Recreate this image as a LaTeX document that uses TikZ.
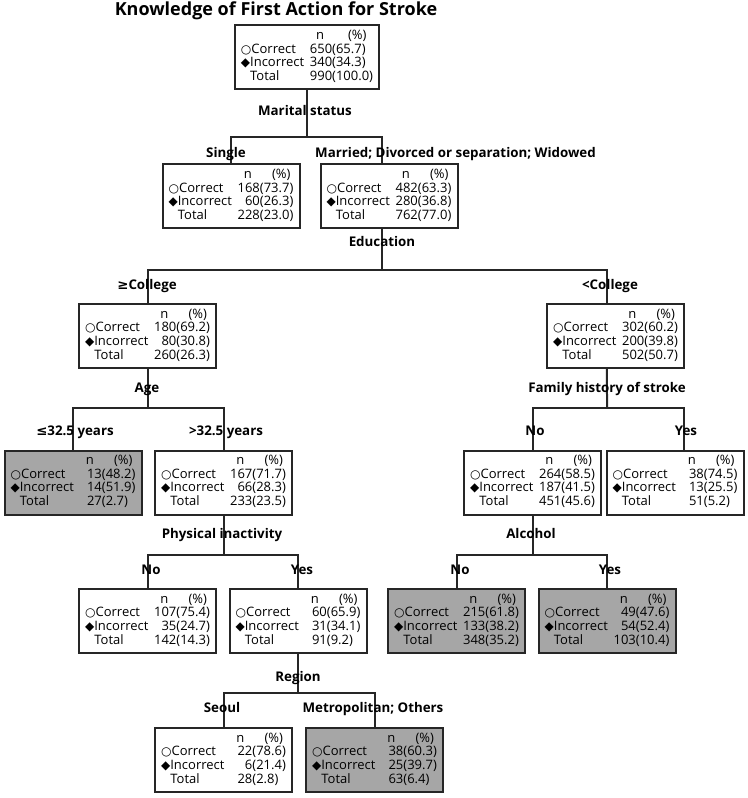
\documentclass[tikz,border=0pt]{standalone}
\usepackage{fontspec}
\setmainfont{Open Sans}
\newfontfamily\symfont{DejaVu Sans}
\usetikzlibrary{positioning}

\definecolor{linegray}{HTML}{262626}
\definecolor{hitgray}{HTML}{A6A6A6}

\newcommand{\crt}{{\symfont\small ○}}
\newcommand{\inc}{{\symfont\small ◆}}
\newcommand{\stats}[6]{%
  \begin{tabular}{@{}l@{\hspace{3pt}}r@{}l@{}}
    & \multicolumn{1}{c}{n} & \multicolumn{1}{c@{}}{\hspace{1pt}(\%)}\\
    \crt Correct & #1 & (#2)\\
    \inc Incorrect & #3 & (#4)\\
    \phantom{\inc}Total & #5 & (#6)
  \end{tabular}}

\begin{document}
\begin{tikzpicture}[x=0.75pt, y=-0.75pt,
    box/.style={draw=linegray, line width=1.5pt, fill=white, inner sep=0pt,
      minimum width=102.75pt, minimum height=48pt,
      font=\fontsize{9.75}{9.9}\selectfont},
    hit/.style={box, fill=hitgray},
    lbl/.style={font=\bfseries\fontsize{10}{12}\selectfont, inner sep=0pt,
      text height=1.6ex, text depth=.3ex},
    branch/.style={draw=linegray, line width=1.5pt}]
  \useasboundingbox (0,0) rectangle (748,798);

  % Titel
  \node[font=\bfseries\fontsize{13.5}{15}\selectfont] (title) at (276,11)
    {Knowledge of First Action for Stroke};

  % Knoten
  \node[box, minimum width=108pt] (root) at (307,57.5) {\stats{650}{65.7}{340}{34.3}{990}{100.0}};
  \node[box] (single)  at (231,196.5) {\stats{168}{73.7}{60}{26.3}{228}{23.0}};
  \node[box] (married) at (389,196.5) {\stats{482}{63.3}{280}{36.8}{762}{77.0}};
  \node[box] (college)  at (147.5,336) {\stats{180}{69.2}{80}{30.8}{260}{26.3}};
  \node[box] (lcollege) at (615.5,336) {\stats{302}{60.2}{200}{39.8}{502}{50.7}};
  \node[hit] (young)  at (73,482.5)    {\stats{13}{48.2}{14}{51.9}{27}{2.7}};
  \node[box] (old)    at (223.5,482.5) {\stats{167}{71.7}{66}{28.3}{233}{23.5}};
  \node[box] (famno)  at (532.5,482.5) {\stats{264}{58.5}{187}{41.5}{451}{45.6}};
  \node[box] (famyes) at (675,482.5)   {\stats{38}{74.5}{13}{25.5}{51}{5.2}};
  \node[box] (physno)  at (147.5,621) {\stats{107}{75.4}{35}{24.7}{142}{14.3}};
  \node[box] (physyes) at (298,621)   {\stats{60}{65.9}{31}{34.1}{91}{9.2}};
  \node[hit] (alcno)   at (456.5,621) {\stats{215}{61.8}{133}{38.2}{348}{35.2}};
  \node[hit] (alcyes)  at (607,621)   {\stats{49}{47.6}{54}{52.4}{103}{10.4}};
  \node[box] (seoul) at (223.5,760) {\stats{22}{78.6}{6}{21.4}{28}{2.8}};
  \node[hit] (metro) at (374.5,760) {\stats{38}{60.3}{25}{39.7}{63}{6.4}};

  % Verzweigungen
  \coordinate (msplit) at (307,137);
  \coordinate (esplit) at (382,270);
  \coordinate (asplit) at (147.5,408);
  \coordinate (fsplit) at (607,408);
  \coordinate (psplit) at (223.5,555);
  \coordinate (lsplit) at (532.5,555);
  \coordinate (rsplit) at (298,693);

  \draw[branch] (root.south) -- (msplit);
  \draw[branch] (single.north) |- (msplit) -| ([xshift=-5.25pt]married.north);
  \draw[branch] ([xshift=-5.25pt]married.south) -- (esplit);
  \draw[branch] (college.north) |- (esplit) -| ([xshift=-6.4pt]lcollege.north);
  \draw[branch] (college.south) -- (asplit);
  \draw[branch] (young.north) |- (asplit) -| (old.north);
  \draw[branch] ([xshift=-6.4pt]lcollege.south) -- (fsplit);
  \draw[branch] (famno.north) |- (fsplit) -| ([xshift=6.75pt]famyes.north);
  \draw[branch] (old.south) -- (psplit);
  \draw[branch] (physno.north) |- (psplit) -| (physyes.north);
  \draw[branch] (famno.south) -- (lsplit);
  \draw[branch] (alcno.north) |- (lsplit) -| (alcyes.north);
  \draw[branch] (physyes.south) -- (rsplit);
  \draw[branch] (seoul.north) |- (rsplit) -| (metro.north);

  % Beschriftungen
  \node[lbl] (lmarital) at (305,111) {Marital status};
  \node[lbl] (lsingle)  at (226,153) {Single};
  \node[lbl] (lmarried) at (455.5,153) {Married; Divorced or separation; Widowed};
  \node[lbl] (ledu)     at (382,242) {Education};
  \node[lbl] (lgecol)   at (147,285) {{\symfont ≥}College};
  \node[lbl] (lltcol)   at (610,285) {<College};
  \node[lbl] (lage)     at (147,388) {Age};
  \node[lbl] (lfamily)  at (607,388) {Family history of stroke};
  \node[lbl] (lyoung)   at (75,431)  {{\symfont ≤}32.5 years};
  \node[lbl] (lold)     at (226,431) {>32.5 years};
  \node[lbl] (lfamno)   at (535,431) {No};
  \node[lbl] (lfamyes)  at (686,431) {Yes};
  \node[lbl] (lphys)    at (222,534) {Physical inactivity};
  \node[lbl] (lalc)     at (531,534) {Alcohol};
  \node[lbl] (lphysno)  at (151,570) {No};
  \node[lbl] (lphysyes) at (302,570) {Yes};
  \node[lbl] (lalcno)   at (460,570) {No};
  \node[lbl] (lalcyes)  at (610,570) {Yes};
  \node[lbl] (lregion)  at (298,677) {Region};
  \node[lbl] (lseoul)   at (222,708) {Seoul};
  \node[lbl] (lmetro)   at (373,708) {Metropolitan; Others};
\end{tikzpicture}
\end{document}
